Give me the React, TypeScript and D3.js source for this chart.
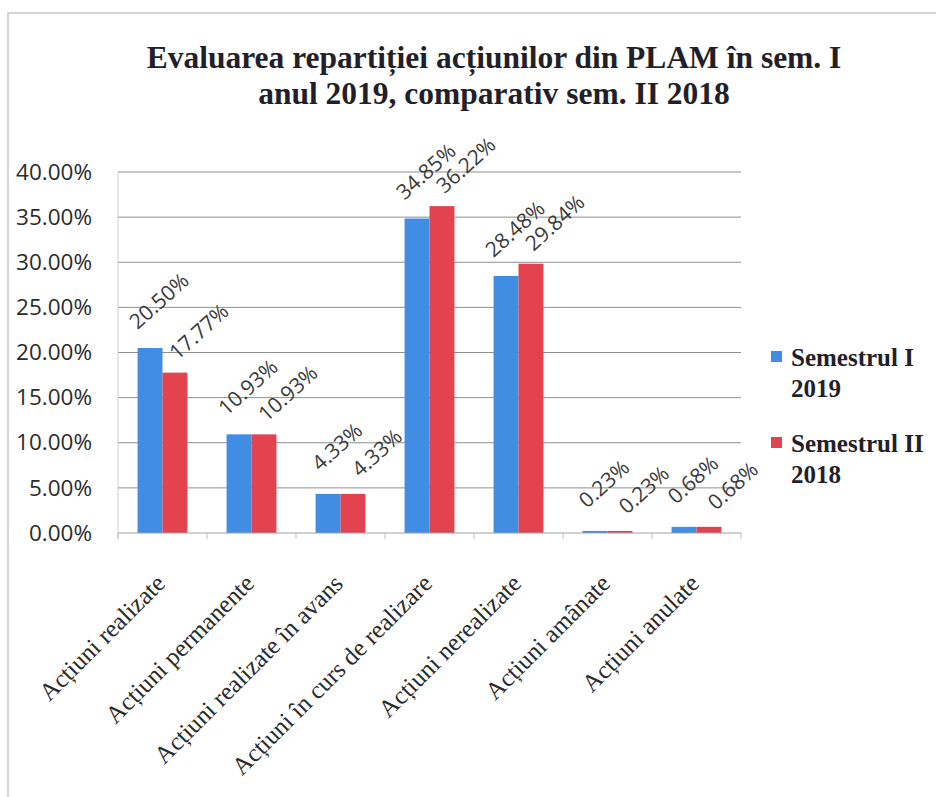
import React, { useEffect, useRef } from 'react';
import * as d3 from 'd3';

// Data
const categories = [
  'Acțiuni realizate',
  'Acțiuni permanente',
  'Acțiuni realizate în avans',
  'Acțiuni în curs de realizare',
  'Acțiuni nerealizate',
  'Acțiuni amânate',
  'Acțiuni anulate',
];
const sem1_2019 = [20.5, 10.93, 4.33, 34.85, 28.48, 0.23, 0.68];
const sem2_2018 = [17.77, 10.93, 4.33, 36.22, 29.84, 0.23, 0.68];
const seriesNames = [['Semestrul I', '2019'], ['Semestrul II', '2018']];
const yTicks = [0, 5, 10, 15, 20, 25, 30, 35, 40];

const colors = ['#418de4', '#e2434f'];
// label offset per series (Excel nudges them apart)
const labelShift = [[9, -47], [24, -41]];

const App = () => {
  const ref = useRef<SVGSVGElement | null>(null);

  useEffect(() => {
    const width = 936;
    const height = 797;
    const margin = { top: 172, left: 118, right: 195, bottom: 264 };
    const chartW = width - margin.left - margin.right;
    const chartH = height - margin.top - margin.bottom;

    const svg = d3.select(ref.current);
    svg.selectAll('*').remove();

    svg.append('rect').attr('width', width).attr('height', height).attr('fill', '#fff');

    // frame
    svg.append('path')
      .attr('d', `M8,${height} V13 H${width}`)
      .attr('fill', 'none')
      .attr('stroke', '#c8c8c8')
      .attr('stroke-width', 1.5);

    // title
    const title = svg.append('text')
      .attr('text-anchor', 'middle')
      .attr('font-family', '"Liberation Serif", "Times New Roman", serif')
      .attr('font-weight', 'bold')
      .attr('font-size', 31.5)
      .attr('fill', '#231f2a');
    title.append('tspan').attr('x', 494).attr('y', 68).text('Evaluarea repartiției acțiunilor din PLAM în sem. I');
    title.append('tspan').attr('x', 494).attr('y', 104).text('anul 2019, comparativ sem. II 2018');

    const chart = svg.append('g').attr('transform', `translate(${margin.left},${margin.top})`);

    const x0 = d3.scaleBand().domain(categories).range([0, chartW]).paddingInner(0.44).paddingOuter(0.22);
    const x1 = d3.scaleBand().domain(['0', '1']).range([0, x0.bandwidth()]);
    const y = d3.scaleLinear().domain([0, 40]).range([chartH, 0]);

    // gridlines
    chart.append('g')
      .selectAll('line')
      .data(yTicks.slice(1))
      .enter()
      .append('line')
      .attr('x1', 0)
      .attr('x2', chartW)
      .attr('y1', (d) => y(d))
      .attr('y2', (d) => y(d))
      .attr('stroke', '#8f8f8f')
      .attr('stroke-width', 1);

    // vertical axis line
    chart.append('line')
      .attr('x1', 0).attr('x2', 0).attr('y1', 0).attr('y2', chartH + 6)
      .attr('stroke', '#d0d0d0');

    // y axis labels
    const yAxis = chart.append('g')
      .call(d3.axisLeft(y).tickValues(yTicks).tickSize(0).tickPadding(26).tickFormat((d) => `${(+d).toFixed(2)}%`));
    yAxis.select('.domain').remove();
    yAxis.selectAll('text')
      .attr('font-family', '"Open Sans", sans-serif')
      .attr('font-size', 22.5)
      .attr('fill', '#2b2b2b');

    // bars
    const groups = chart.selectAll('.grp')
      .data(categories)
      .enter()
      .append('g')
      .attr('transform', (d) => `translate(${x0(d)},0)`);

    const series = [sem1_2019, sem2_2018];
    groups.each(function (cat, i) {
      const g = d3.select(this);
      series.forEach((vals, s) => {
        g.append('rect')
          .attr('x', x1(String(s)) as number)
          .attr('y', y(vals[i]))
          .attr('width', x1.bandwidth())
          .attr('height', chartH - y(vals[i]))
          .attr('fill', colors[s]);
      });
    });

    // baseline and category ticks
    chart.append('line')
      .attr('x1', 0).attr('x2', chartW).attr('y1', chartH).attr('y2', chartH)
      .attr('stroke', '#a0a0a0');
    const step = x0.step();
    chart.append('g')
      .selectAll('line')
      .data(d3.range(categories.length + 1))
      .enter()
      .append('line')
      .attr('x1', (d) => d * step)
      .attr('x2', (d) => d * step)
      .attr('y1', chartH)
      .attr('y2', chartH + 6)
      .attr('stroke', '#c0c0c0');

    // data labels
    groups.each(function (cat, i) {
      const g = d3.select(this);
      series.forEach((vals, s) => {
        const cx = (x1(String(s)) as number) + x1.bandwidth() / 2;
        const ty = y(vals[i]);
        g.append('text')
          .attr('transform', `translate(${cx + labelShift[s][0]},${ty + labelShift[s][1]}) rotate(-42)`)
          .attr('text-anchor', 'middle')
          .attr('dy', '0.35em')
          .attr('font-family', '"Open Sans", sans-serif')
          .attr('font-size', 21)
          .attr('fill', '#3a3a3a')
          .text(`${vals[i].toFixed(2)}%`);
      });
    });

    // category labels
    chart.append('g')
      .selectAll('text')
      .data(categories)
      .enter()
      .append('text')
      .attr('transform', (d) => `translate(${(x0(d) as number) + x0.bandwidth() / 2 + 4},${chartH + 52}) rotate(-45)`)
      .attr('text-anchor', 'end')
      .attr('font-family', '"Liberation Serif", "Times New Roman", serif')
      .attr('font-size', 25)
      .attr('fill', '#2a2a2a')
      .text((d) => d);

    // legend
    const legend = svg.append('g').attr('transform', 'translate(771,351)');
    seriesNames.forEach((lines, s) => {
      const lg = legend.append('g').attr('transform', `translate(0,${s * 86})`);
      lg.append('rect').attr('width', 11).attr('height', 11).attr('fill', colors[s]);
      const t = lg.append('text')
        .attr('font-family', '"Liberation Serif", "Times New Roman", serif')
        .attr('font-weight', 'bold')
        .attr('font-size', 25)
        .attr('fill', '#231f2a');
      t.append('tspan').attr('x', 20).attr('y', 15).text(lines[0]);
      t.append('tspan').attr('x', 20).attr('y', 46).text(lines[1]);
    });
  }, []);

  return (
    <>
      <style>{'body{margin:0}'}</style>
      <svg ref={ref} width={936} height={797} style={{ display: 'block' }} />
    </>
  );
};

export default App;
